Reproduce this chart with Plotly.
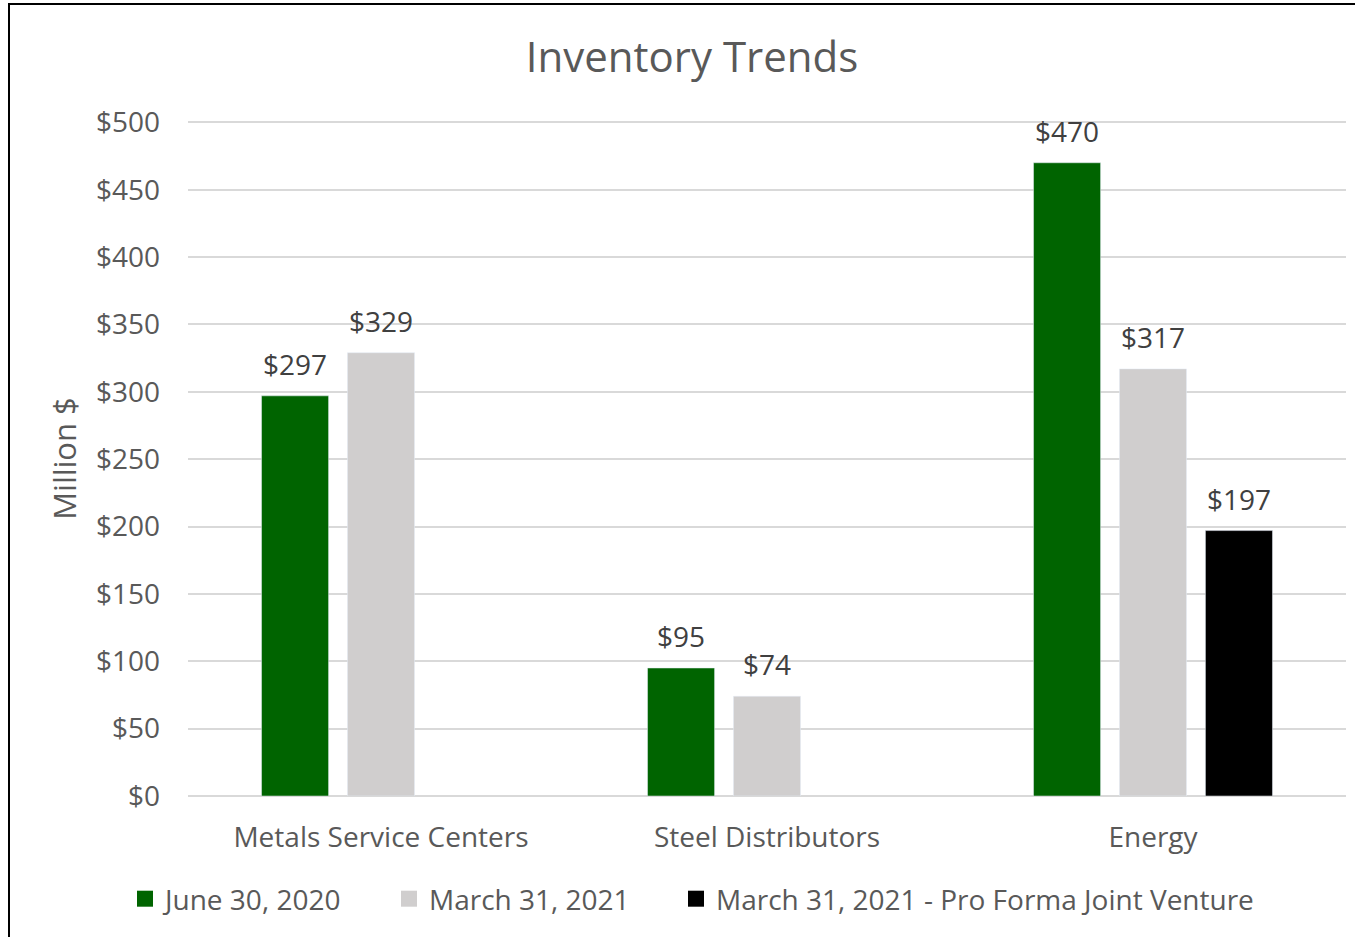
import plotly.graph_objects as go

categories = ["Metals Service Centers", "Steel Distributors", "Energy"]
series_names = ["June 30, 2020", "March 31, 2021", "March 31, 2021 - Pro Forma Joint Venture"]
june_2020 = [297, 95, 470]
march_2021 = [329, 74, 317]
pro_forma_jv = [None, None, 197]
series_values = [june_2020, march_2021, pro_forma_jv]
series_colors = ["#006400", "#D0CECE", "#000000"]
y_ticks = [0, 50, 100, 150, 200, 250, 300, 350, 400, 450, 500]
y_tick_labels = [f"${v}" for v in y_ticks]

FONT = "Open Sans"
TEXT_GRAY = "#595959"

W, H = 1355, 937
ml, mr, mt, mb = 188, 9, 121, 141
pw, ph = W - ml - mr, H - mt - mb
BARGAP, BARGROUPGAP = 0.332, 0.22

# left edge (px) of each legend entry
legend_left_px = [125, 389, 676]
legend_ids = ["legend", "legend2", "legend3"]

fig = go.Figure()
for name, vals, color, lid in zip(series_names, series_values, series_colors, legend_ids):
    fig.add_trace(go.Bar(
        x=categories, y=vals, name=name, marker_color=color,
        showlegend=False,
    ))
    # legend swatch
    fig.add_trace(go.Scatter(
        x=[None], y=[None], mode="markers", name=name, legend=lid,
        marker=dict(symbol="square", size=18, color=color),
    ))

# value labels above each bar, offset to the bar's slot within its group
slot_px = (pw / len(categories)) * (1 - BARGAP) / len(series_values)
annotations = []
for i, vals in enumerate(series_values):
    for cat, v in zip(categories, vals):
        if v is None:
            continue
        annotations.append(dict(
            x=cat, y=v, xref="x", yref="y", text=f"${v}", showarrow=False,
            xanchor="center", yanchor="bottom",
            xshift=(i - (len(series_values) - 1) / 2) * slot_px, yshift=11,
            font=dict(family=FONT, size=28, color="#404040"),
        ))

legend_common = dict(orientation="h", xanchor="left", xref="paper",
                     y=-(899 - (mt + ph)) / ph, yanchor="middle",
                     font=dict(family=FONT, size=28, color=TEXT_GRAY),
                     itemwidth=30, bgcolor="rgba(0,0,0,0)")

fig.update_layout(
    width=W, height=H,
    margin=dict(l=ml, r=mr, t=mt, b=mb),
    paper_bgcolor="white", plot_bgcolor="white",
    barmode="group", bargap=BARGAP, bargroupgap=BARGROUPGAP,
    title=dict(text="Inventory Trends", x=(692 - ml) / pw, xref="paper", xanchor="center",
               y=1 - 57 / H, yanchor="middle",
               font=dict(family=FONT, size=42, color=TEXT_GRAY)),
    font=dict(family=FONT, color=TEXT_GRAY),
    legend=dict(x=(legend_left_px[0] - ml) / pw, **legend_common),
    legend2=dict(x=(legend_left_px[1] - ml) / pw, **legend_common),
    legend3=dict(x=(legend_left_px[2] - ml) / pw, **legend_common),
    annotations=annotations,
    xaxis=dict(showgrid=False, showline=False, ticks="",
               tickfont=dict(family=FONT, size=28, color=TEXT_GRAY),
               ticklabelstandoff=22),
    yaxis=dict(range=[0, 501], tickmode="array", tickvals=y_ticks, ticktext=y_tick_labels,
               showgrid=True, gridcolor="#D9D9D9", gridwidth=1.5,
               zeroline=True, zerolinecolor="#D9D9D9", zerolinewidth=1.5,
               showline=False, ticks="",
               tickfont=dict(family=FONT, size=28, color=TEXT_GRAY),
               ticklabelstandoff=27,
               title=dict(text="Million $", standoff=10,
                          font=dict(family=FONT, size=31, color=TEXT_GRAY))),
    shapes=[dict(type="rect", xref="paper", yref="paper",
                 x0=(9 - ml) / pw, x1=(W + 20 - ml) / pw,
                 y0=-(H + 20 - mt - ph) / ph, y1=1 + (mt - 4) / ph,
                 line=dict(color="black", width=2), fillcolor="rgba(0,0,0,0)", layer="above")],
)

fig.write_html("out.html")
